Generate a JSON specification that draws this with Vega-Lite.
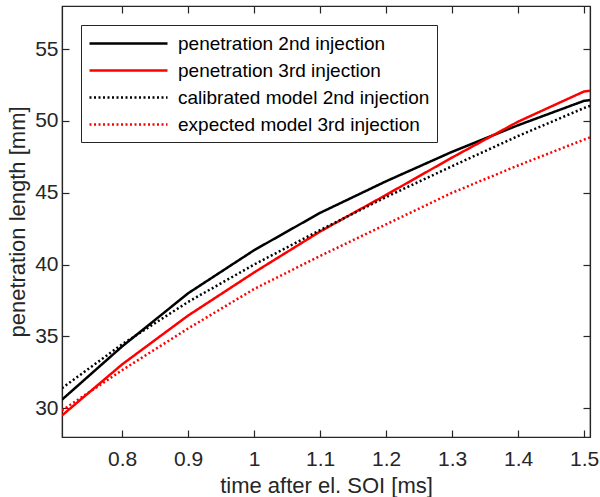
{
  "$schema": "https://vega.github.io/schema/vega-lite/v6.json",
  "width": 528,
  "height": 431,
  "autosize": {"type": "none"},
  "padding": {"left": 62, "top": 6, "right": 10, "bottom": 60},
  "config": {
    "view": {"stroke": "#262626", "strokeWidth": 1.2},
    "font": "Liberation Sans",
    "axis": {
      "grid": false,
      "domainColor": "#262626",
      "tickColor": "#262626",
      "labelColor": "#262626",
      "titleColor": "#262626",
      "labelFont": "Liberation Sans",
      "titleFont": "Liberation Sans",
      "labelFontSize": 21,
      "titleFontSize": 22,
      "titleFontWeight": "normal",
      "tickSize": -7,
      "tickWidth": 1.2,
      "domainWidth": 1.2
    }
  },
  "data": {
    "values": [
      {"t": 0.709, "len": 30.6, "series": "penetration 2nd injection"},
      {"t": 0.8, "len": 34.3, "series": "penetration 2nd injection"},
      {"t": 0.9, "len": 38.0, "series": "penetration 2nd injection"},
      {"t": 1.0, "len": 41.0, "series": "penetration 2nd injection"},
      {"t": 1.1, "len": 43.6, "series": "penetration 2nd injection"},
      {"t": 1.2, "len": 45.8, "series": "penetration 2nd injection"},
      {"t": 1.3, "len": 47.85, "series": "penetration 2nd injection"},
      {"t": 1.4, "len": 49.7, "series": "penetration 2nd injection"},
      {"t": 1.5, "len": 51.4, "series": "penetration 2nd injection"},
      {"t": 1.509, "len": 51.45, "series": "penetration 2nd injection"},
      {"t": 0.709, "len": 29.5, "series": "penetration 3rd injection"},
      {"t": 0.8, "len": 33.05, "series": "penetration 3rd injection"},
      {"t": 0.9, "len": 36.45, "series": "penetration 3rd injection"},
      {"t": 1.0, "len": 39.45, "series": "penetration 3rd injection"},
      {"t": 1.1, "len": 42.3, "series": "penetration 3rd injection"},
      {"t": 1.2, "len": 44.85, "series": "penetration 3rd injection"},
      {"t": 1.3, "len": 47.45, "series": "penetration 3rd injection"},
      {"t": 1.4, "len": 49.95, "series": "penetration 3rd injection"},
      {"t": 1.5, "len": 52.05, "series": "penetration 3rd injection"},
      {"t": 1.509, "len": 52.1, "series": "penetration 3rd injection"},
      {"t": 0.709, "len": 31.4, "series": "calibrated model 2nd injection"},
      {"t": 0.8, "len": 34.45, "series": "calibrated model 2nd injection"},
      {"t": 0.9, "len": 37.4, "series": "calibrated model 2nd injection"},
      {"t": 1.0, "len": 40.0, "series": "calibrated model 2nd injection"},
      {"t": 1.1, "len": 42.4, "series": "calibrated model 2nd injection"},
      {"t": 1.2, "len": 44.7, "series": "calibrated model 2nd injection"},
      {"t": 1.3, "len": 46.85, "series": "calibrated model 2nd injection"},
      {"t": 1.4, "len": 48.95, "series": "calibrated model 2nd injection"},
      {"t": 1.5, "len": 50.9, "series": "calibrated model 2nd injection"},
      {"t": 1.509, "len": 51.05, "series": "calibrated model 2nd injection"},
      {"t": 0.709, "len": 29.85, "series": "expected model 3rd injection"},
      {"t": 0.8, "len": 32.65, "series": "expected model 3rd injection"},
      {"t": 0.9, "len": 35.55, "series": "expected model 3rd injection"},
      {"t": 1.0, "len": 38.3, "series": "expected model 3rd injection"},
      {"t": 1.1, "len": 40.6, "series": "expected model 3rd injection"},
      {"t": 1.2, "len": 42.8, "series": "expected model 3rd injection"},
      {"t": 1.3, "len": 45.0, "series": "expected model 3rd injection"},
      {"t": 1.4, "len": 46.9, "series": "expected model 3rd injection"},
      {"t": 1.5, "len": 48.7, "series": "expected model 3rd injection"},
      {"t": 1.509, "len": 48.85, "series": "expected model 3rd injection"}
    ]
  },
  "layer": [
    {
      "mark": {"type": "line", "strokeWidth": 2.5, "clip": true},
      "encoding": {
        "x": {
          "field": "t", "type": "quantitative",
          "scale": {"domain": [0.709, 1.509], "nice": false, "zero": false},
          "axis": {"values": [0.8, 0.9, 1.0, 1.1, 1.2, 1.3, 1.4, 1.5], "format": "~g", "title": "time after el. SOI [ms]", "labelPadding": 18, "titlePadding": 6, "labelFlush": false}
        },
        "y": {
          "field": "len", "type": "quantitative",
          "scale": {"domain": [28, 58], "nice": false, "zero": false},
          "axis": {"values": [30, 35, 40, 45, 50, 55], "title": "penetration length [mm]", "labelPadding": 11, "titlePadding": 5}
        },
        "color": {
          "field": "series", "type": "nominal",
          "scale": {"domain": ["penetration 2nd injection", "penetration 3rd injection", "calibrated model 2nd injection", "expected model 3rd injection"], "range": ["#000000", "#ff0000", "#000000", "#ff0000"]},
          "legend": {"title": null, "orient": "none", "legendX": 19, "legendY": 19, "symbolType": "M-1,0H6.8", "symbolSize": 400, "symbolStrokeWidth": 2.5, "labelFontSize": 19, "labelOffset": 67, "padding": 7, "rowPadding": 5, "strokeColor": "#262626", "fillColor": "white", "labelColor": "#000000", "labelFont": "Liberation Sans", "labelLimit": 400}
        },
        "strokeDash": {
          "field": "series", "type": "nominal",
          "scale": {"domain": ["penetration 2nd injection", "penetration 3rd injection", "calibrated model 2nd injection", "expected model 3rd injection"], "range": [[1, 0], [1, 0], [2, 2.5], [2, 2.5]]},
          "legend": {"title": null, "orient": "none", "legendX": 19, "legendY": 19, "symbolType": "M-1,0H6.8", "symbolSize": 400, "symbolStrokeWidth": 2.5, "labelFontSize": 19, "labelOffset": 67, "padding": 7, "rowPadding": 5, "strokeColor": "#262626", "fillColor": "white", "labelColor": "#000000", "labelFont": "Liberation Sans", "labelLimit": 400}
        }
      }
    },
    {
      "mark": {"type": "line", "opacity": 0},
      "encoding": {
        "x": {
          "field": "t", "type": "quantitative",
          "axis": {"orient": "top", "values": [0.8, 0.9, 1.0, 1.1, 1.2, 1.3, 1.4, 1.5], "labels": false, "title": null}
        },
        "y": {
          "field": "len", "type": "quantitative",
          "axis": {"orient": "right", "values": [30, 35, 40, 45, 50, 55], "labels": false, "title": null}
        }
      }
    }
  ],
  "resolve": {"axis": {"x": "independent", "y": "independent"}}
}
